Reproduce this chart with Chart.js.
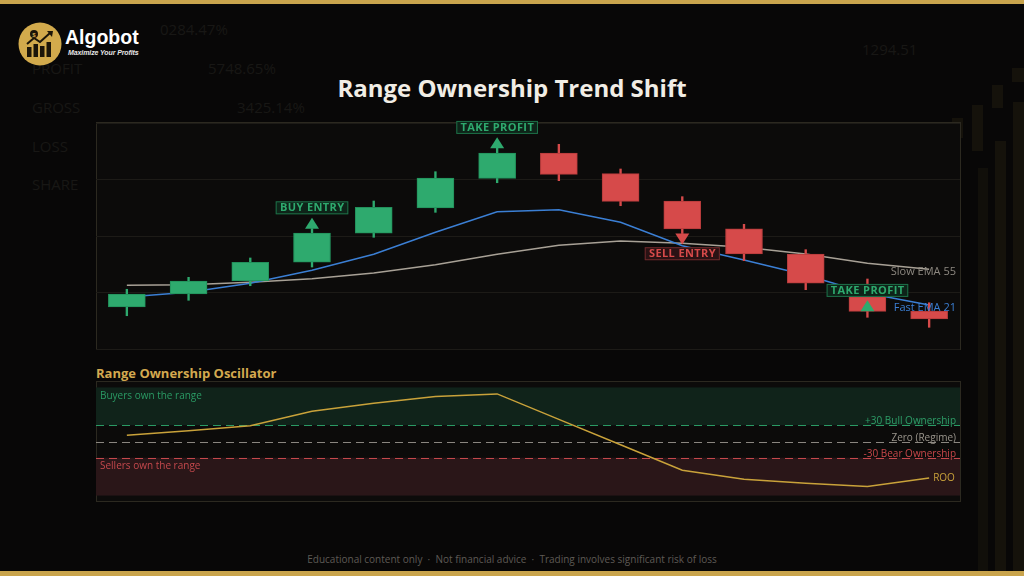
<!DOCTYPE html>
<html>
<head>
<meta charset="utf-8">
<script src="https://cdn.jsdelivr.net/npm/chart.js@4.4.1/dist/chart.umd.min.js"></script>
<style>
html,body{margin:0;padding:0;background:#080707;}
#stage{position:relative;width:1024px;height:576px;overflow:hidden;background:#080707;font-family:'Open Sans',sans-serif;}
.goldbar{position:absolute;left:0;width:1024px;background:#c9a44c;}
.faint{position:absolute;color:#181715;font-size:15px;line-height:1;white-space:nowrap;}
.deco{position:absolute;background:#15120b;}
.panel{position:absolute;background:#0c0b0a;border:1px solid #2c2920;box-sizing:border-box;}
.cv{position:absolute;}
#title{position:absolute;left:0;width:1024px;top:72px;text-align:center;color:#f1ede5;font-weight:700;font-size:24px;line-height:32px;}
#oscTitle{position:absolute;left:96px;top:363px;color:#d3a94f;font-weight:700;font-size:13px;line-height:20px;}
#footer{position:absolute;left:0;width:1024px;top:551px;text-align:center;color:#5e5a55;font-size:10px;line-height:16px;}
#logoText{position:absolute;left:65px;top:26px;color:#ffffff;font-family:'Liberation Sans',Arial,sans-serif;font-weight:700;font-size:19.5px;line-height:22px;}
#logoSub{position:absolute;left:68px;top:49px;color:#e8e8e8;font-family:'Liberation Sans',Arial,sans-serif;font-weight:700;font-style:italic;font-size:7px;line-height:8px;letter-spacing:-0.1px;}
</style>
</head>
<body>
<div id="stage">
  <div class="goldbar" style="top:0;height:4px;"></div>
  <div class="goldbar" style="top:571px;height:5px;"></div>

  <!-- faint background decoration -->
  <div class="faint" style="left:160px;top:22px;">0284.47%</div>
  <div class="faint" style="left:32px;top:61px;">PROFIT</div>
  <div class="faint" style="left:208px;top:61px;">5748.65%</div>
  <div class="faint" style="left:32px;top:100px;">GROSS</div>
  <div class="faint" style="left:237px;top:100px;">3425.14%</div>
  <div class="faint" style="left:32px;top:139px;">LOSS</div>
  <div class="faint" style="left:32px;top:177px;">SHARE</div>
  <div class="faint" style="left:862px;top:42px;">1294.51</div>
  <div class="deco" style="left:952px;top:118px;width:11px;height:20px;"></div>
  <div class="deco" style="left:972px;top:105px;width:11px;height:46px;"></div>
  <div class="deco" style="left:992px;top:85px;width:11px;height:23px;"></div>
  <div class="deco" style="left:1012px;top:68px;width:12px;height:14px;"></div>
  <div class="deco" style="left:995px;top:141px;width:11px;height:430px;"></div>
  <div class="deco" style="left:1013px;top:102px;width:11px;height:469px;"></div>
  <div class="deco" style="left:978px;top:168px;width:10px;height:403px;opacity:.7"></div>

  <!-- logo -->
  <svg style="position:absolute;left:0;top:0" width="70" height="70" viewBox="0 0 70 70">
    <circle cx="40" cy="44" r="21.5" fill="#d2aa4c"/>
    <rect x="27" y="47" width="4.5" height="10" fill="#1b1509"/>
    <rect x="33.5" y="44" width="4.5" height="13" fill="#1b1509"/>
    <rect x="40" y="46" width="4.5" height="11" fill="#1b1509"/>
    <rect x="46.5" y="42" width="4.5" height="15" fill="#1b1509"/>
    <polyline points="27,44 34,38 40,42 50,33" fill="none" stroke="#1b1509" stroke-width="2"/>
    <polygon points="47,31 53,31 52,37" fill="#1b1509"/>
    <circle cx="34" cy="34" r="4" fill="#1b1509"/>
    <text x="34" y="36.5" font-size="6" font-weight="700" fill="#d2aa4c" text-anchor="middle" font-family="Liberation Sans">$</text>
  </svg>
  <div id="logoText">Algobot</div>
  <div id="logoSub">Maximize Your Profits</div>

  <div id="title">Range Ownership Trend Shift</div>

  <div class="panel" style="left:96px;top:122px;width:865px;height:228px;"></div>
  <div class="cv" style="left:86px;top:113px;width:884px;height:246px;"><canvas id="mainChart" width="884" height="246" style="width:884px;height:246px"></canvas></div>

  <div id="oscTitle">Range Ownership Oscillator</div>
  <div class="panel" style="left:96px;top:381px;width:865px;height:121px;"></div>
  <div class="cv" style="left:86px;top:372px;width:884px;height:139px;"><canvas id="oscChart" width="884" height="139" style="width:884px;height:139px"></canvas></div>

  <div id="footer">Educational content only &nbsp;·&nbsp; Not financial advice &nbsp;·&nbsp; Trading involves significant risk of loss</div>
</div>

<script>
// ---------- DATA ----------
const categories = ['B1','B2','B3','B4','B5','B6','B7','B8','B9','B10','B11','B12','B13','B14'];
const opens  = [107.43,109.73,112.04,115.35,120.48,124.96,130.21,134.69,131.03,126.19,121.29,116.81,109.26,106.73];
const closes = [109.73,112.04,115.35,120.53,125.08,130.27,134.69,130.92,126.14,121.24,116.81,111.63,106.67,105.31];
const highs  = [110.57,112.69,116.11,121.29,126.19,131.38,135.52,136.23,131.86,126.96,122.07,117.58,112.39,108.19];
const lows   = [105.89,108.62,111.20,114.51,119.77,124.19,129.43,129.79,125.36,120.44,115.63,110.50,105.61,103.84];
const fastEma = [109.20,110.04,111.63,113.93,116.76,120.65,124.30,124.65,122.42,118.28,115.75,113.10,109.86,107.79];
const slowEma = [111.27,111.38,111.81,112.44,113.45,114.92,116.76,118.35,119.12,118.71,118.00,116.81,115.17,114.11];
const priceMin = 100, priceMax = 140, priceStep = 10;

const signalIndex = [3, 6, 9, 12];
const signalPrice = [121.29, 135.52, 120.44, 106.67];
const signalDir   = ['up', 'up', 'down', 'up'];
const signalText  = ['BUY ENTRY', 'TAKE PROFIT', 'SELL ENTRY', 'TAKE PROFIT'];

const rooValues = [11.5, 20, 29, 56, 70.6, 83, 88, 41, -6, -53, -70, -77, -83, -67.5];
const rooMin = -110, rooMax = 110;
const rooLevels = [30, 0, -30];
const rooLevelText = ['+30 Bull Ownership', 'Zero (Regime)', '-30 Bear Ownership'];
const rooZones = [[30, 100], [-100, -30]];
const rooZoneText = ['Buyers own the range', 'Sellers own the range'];

// ---------- STYLE ----------
const GREEN = '#2eaa6e', GREEN_DARK = '#22905b';
const RED = '#d64a4a', RED_DARK = '#b43b3b';
const FAST_COLOR = '#3b7fd4', SLOW_COLOR = '#a8a196';
const GOLD = '#c9a23a';

Chart.defaults.font.family = "'Open Sans', sans-serif";
Chart.defaults.animation = false;

const isUp = opens.map((o, i) => closes[i] >= o);

const signalPlugin = {
  id: 'signals',
  afterDatasetsDraw(chart) {
    const { ctx, chartArea: a, scales: { x, y } } = chart;
    ctx.save();
    const last = categories.length - 1;
    ctx.font = "11px 'Open Sans'";
    ctx.textAlign = 'right';
    ctx.textBaseline = 'middle';
    ctx.fillStyle = '#8d8880';
    ctx.fillText('Slow EMA 55', a.right - 4, y.getPixelForValue(slowEma[last]) + 3);
    ctx.fillStyle = FAST_COLOR;
    ctx.fillText('Fast EMA 21', a.right - 4, y.getPixelForValue(fastEma[last]) + 3);

    signalIndex.forEach((idx, k) => {
      const cx = x.getPixelForValue(idx);
      const py = y.getPixelForValue(signalPrice[k]);
      const up = signalDir[k] === 'up';
      const col = up ? GREEN : RED;
      const tip = up ? py - 11 : py + 11;
      ctx.beginPath();
      ctx.moveTo(cx - 7, py);
      ctx.lineTo(cx + 7, py);
      ctx.lineTo(cx, tip);
      ctx.closePath();
      ctx.fillStyle = col;
      ctx.fill();

      ctx.font = "700 11px 'Open Sans'";
      ctx.letterSpacing = '0.4px';
      const tw = ctx.measureText(signalText[k]).width;
      const bw = tw + 8, bh = 13;
      const by = up ? tip - 3.4 - bh : tip + 2.7;
      const bx = cx - bw / 2;
      ctx.fillStyle = up ? '#0e2419' : '#2a1214';
      ctx.fillRect(bx, by, bw, bh);
      ctx.strokeStyle = up ? '#1d7048' : '#6e2a2b';
      ctx.lineWidth = 1;
      ctx.strokeRect(bx + 0.5, by + 0.5, bw - 1, bh - 1);
      ctx.fillStyle = col;
      ctx.textAlign = 'center';
      ctx.textBaseline = 'middle';
      ctx.fillText(signalText[k], cx + 0.2, by + bh / 2 + 0.5);
      ctx.letterSpacing = '0px';
    });
    ctx.restore();
  }
};

new Chart(document.getElementById('mainChart'), {
  type: 'bar',
  data: {
    labels: categories,
    datasets: [
      {
        type: 'bar',
        data: opens.map((o, i) => [o, closes[i]]),
        backgroundColor: isUp.map(u => u ? GREEN : RED),
        borderColor: isUp.map(u => u ? GREEN_DARK : RED_DARK),
        borderWidth: 1,
        borderSkipped: false,
        barThickness: 37,
        grouped: false,
        order: 0
      },
      {
        type: 'bar',
        data: lows.map((l, i) => [l, highs[i]]),
        backgroundColor: isUp.map(u => u ? GREEN : RED),
        borderWidth: 0,
        barThickness: 1.7,
        grouped: false,
        order: 1
      },
      {
        type: 'line',
        data: fastEma,
        borderColor: FAST_COLOR,
        borderWidth: 1.5,
        pointRadius: 0,
        tension: 0,
        order: 2
      },
      {
        type: 'line',
        data: slowEma,
        borderColor: SLOW_COLOR,
        borderWidth: 1.5,
        pointRadius: 0,
        tension: 0,
        order: 3
      }
    ]
  },
  options: {
    responsive: false,
    layout: { padding: { left: 10, right: 10, top: 10, bottom: 10 } },
    plugins: { legend: { display: false }, tooltip: { enabled: false } },
    scales: {
      x: { type: 'category', offset: true, display: false, grid: { display: false } },
      y: {
        min: priceMin, max: priceMax,
        ticks: { display: false, stepSize: priceStep },
        grid: { color: '#1d1b17', lineWidth: 1, drawTicks: false },
        border: { display: false }
      }
    }
  },
  plugins: [signalPlugin]
});

const rooPlugin = {
  id: 'rooZones',
  beforeDatasetsDraw(chart) {
    const { ctx, chartArea: a, scales: { y } } = chart;
    ctx.save();
    const zoneFill = ['#10231a', '#2a1618'];
    const zoneTextColor = ['#2a9a64', '#c4484c'];
    rooZones.forEach((z, k) => {
      const top = y.getPixelForValue(z[1]);
      const bot = y.getPixelForValue(z[0]);
      ctx.fillStyle = zoneFill[k];
      ctx.fillRect(a.left, top, a.right - a.left, bot - top);
      ctx.font = "10px 'Open Sans'";
      ctx.textAlign = 'left';
      ctx.textBaseline = 'middle';
      ctx.fillStyle = zoneTextColor[k];
      ctx.fillText(rooZoneText[k], a.left + 4, top + 8.5);
    });
    const lineColor = ['#2a9a64', '#8a8680', '#c4484c'];
    const textColor = ['#2e9e68', '#9a958c', '#c8474a'];
    rooLevels.forEach((lv, k) => {
      const py = Math.round(y.getPixelForValue(lv)) + 0.5;
      ctx.beginPath();
      ctx.setLineDash([8, 5]);
      ctx.strokeStyle = lineColor[k];
      ctx.lineWidth = 1.2;
      ctx.moveTo(a.left, py);
      ctx.lineTo(a.right, py);
      ctx.stroke();
      ctx.setLineDash([]);
      ctx.font = "10px 'Open Sans'";
      ctx.textAlign = 'right';
      ctx.textBaseline = 'middle';
      ctx.fillStyle = textColor[k];
      ctx.fillText(rooLevelText[k], a.right - 4, py - 4);
    });
    ctx.restore();
  },
  afterDatasetsDraw(chart) {
    const { ctx, scales: { x, y } } = chart;
    const last = rooValues.length - 1;
    ctx.save();
    ctx.font = "10px 'Open Sans'";
    ctx.textAlign = 'left';
    ctx.textBaseline = 'middle';
    ctx.fillStyle = GOLD;
    ctx.fillText('ROO', x.getPixelForValue(last) + 4, y.getPixelForValue(rooValues[last]));
    ctx.restore();
  }
};

new Chart(document.getElementById('oscChart'), {
  type: 'line',
  data: {
    labels: categories,
    datasets: [{
      data: rooValues,
      borderColor: GOLD,
      borderWidth: 1.5,
      pointRadius: 0,
      tension: 0
    }]
  },
  options: {
    responsive: false,
    layout: { padding: { left: 10, right: 10, top: 10, bottom: 10 } },
    plugins: { legend: { display: false }, tooltip: { enabled: false } },
    scales: {
      x: { type: 'category', offset: true, display: false, grid: { display: false } },
      y: { min: rooMin, max: rooMax, display: false }
    }
  },
  plugins: [rooPlugin]
});
</script>
</body>
</html>
